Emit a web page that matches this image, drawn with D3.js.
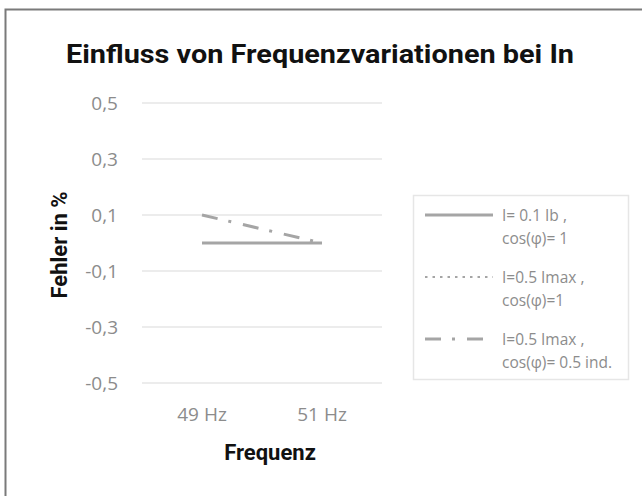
<!DOCTYPE html>
<html>
<head>
<meta charset="utf-8">
<script src="https://cdn.jsdelivr.net/npm/d3@7"></script>
<style>
  body { margin: 0; background: #fff; }
</style>
</head>
<body>
<div id="chart"></div>
<script>
const categories = ['49 Hz', '51 Hz'];
const yTicks = [0.5, 0.3, 0.1, -0.1, -0.3, -0.5];
const seriesNames = [
  ['I= 0.1 Ib ,', 'cos(\u03C6)= 1'],
  ['I=0.5 Imax ,', 'cos(\u03C6)=1'],
  ['I=0.5 Imax ,', 'cos(\u03C6)= 0.5 ind.'],
];
const seriesA = [0, 0];
const seriesB = [0, 0];
const seriesC = [0.1, 0];
const seriesDash = [null, '2.5,5', '16,11,3,12'];

const width = 642;
const height = 496;
const plot = { left: 142, right: 382, top: 103, bottom: 383 };
const lineColor = '#a5a5a5';
const tickColor = '#8c8c8c';

const svg = d3.select('#chart').append('svg')
  .attr('width', width)
  .attr('height', height);

// frame: only top and left edges show in the picture
svg.append('path')
  .attr('d', `M5.5,${height} V9.5 H${width}`)
  .attr('fill', 'none')
  .attr('stroke', '#7a7a7a')
  .attr('stroke-width', 2);

svg.append('text')
  .attr('x', 66).attr('y', 63)
  .attr('font-family', 'Roboto, sans-serif')
  .attr('font-weight', 700)
  .attr('font-size', 26)
  .attr('textLength', 508)
  .attr('lengthAdjust', 'spacingAndGlyphs')
  .attr('fill', '#111')
  .text('Einfluss von Frequenzvariationen bei In');

const x = d3.scaleBand().domain(categories).range([plot.left, plot.right]);
const y = d3.scaleLinear().domain([-0.5, 0.5]).range([plot.bottom, plot.top]);

// gridlines
svg.append('g')
  .selectAll('line')
  .data(yTicks)
  .join('line')
  .attr('x1', plot.left).attr('x2', plot.right)
  .attr('y1', (d) => y(d)).attr('y2', (d) => y(d))
  .attr('stroke', '#e6e6e6')
  .attr('stroke-width', 1.5);

const yAxis = d3.axisLeft(y)
  .tickValues(yTicks)
  .tickSize(0)
  .tickPadding(24)
  .tickFormat((d) => d3.format('.1f')(d).replace('.', ',').replace('\u2212', '-'));

const yg = svg.append('g')
  .attr('transform', `translate(${plot.left},0)`)
  .call(yAxis);
yg.select('.domain').remove();
yg.selectAll('text')
  .attr('font-family', '"Open Sans", sans-serif')
  .attr('font-size', 19)
  .attr('fill', tickColor);

const xAxis = d3.axisBottom(x).tickSize(0).tickPadding(25);
const xg = svg.append('g')
  .attr('transform', `translate(0,${plot.bottom})`)
  .call(xAxis);
xg.select('.domain').remove();
xg.selectAll('text')
  .attr('font-family', '"Open Sans", sans-serif')
  .attr('font-size', 19)
  .attr('fill', tickColor);

// axis titles
svg.append('text')
  .attr('x', 270).attr('y', 460)
  .attr('text-anchor', 'middle')
  .attr('font-family', 'Roboto, sans-serif')
  .attr('font-weight', 700)
  .attr('font-size', 22)
  .attr('fill', '#111')
  .text('Frequenz');

svg.append('text')
  .attr('transform', 'translate(67,245) rotate(-90)')
  .attr('text-anchor', 'middle')
  .attr('font-family', 'Roboto, sans-serif')
  .attr('font-weight', 700)
  .attr('font-size', 22)
  .attr('fill', '#111')
  .text('Fehler in %');

// series lines
const allSeries = [seriesA, seriesB, seriesC];
const lineGen = d3.line()
  .x((d, i) => x(categories[i]) + x.bandwidth() / 2)
  .y((d) => y(d));

svg.append('g')
  .selectAll('path')
  .data(allSeries)
  .join('path')
  .attr('d', (d) => lineGen(d))
  .attr('fill', 'none')
  .attr('stroke', lineColor)
  .attr('stroke-width', (d, i) => (i === 1 ? 2 : 3))
  .attr('stroke-dasharray', (d, i) => seriesDash[i]);

// legend
const legend = svg.append('g');
legend.append('rect')
  .attr('x', 413.5).attr('y', 195.5)
  .attr('width', 215).attr('height', 184)
  .attr('fill', '#fff')
  .attr('stroke', '#e6e6e6')
  .attr('stroke-width', 1.5);

const entryY = [215, 277, 339];
seriesNames.forEach((name, i) => {
  legend.append('line')
    .attr('x1', 425).attr('x2', 493)
    .attr('y1', entryY[i]).attr('y2', entryY[i])
    .attr('stroke', lineColor)
    .attr('stroke-width', i === 1 ? 2 : 3)
    .attr('stroke-dasharray', seriesDash[i]);
  legend.append('text')
    .attr('x', 502).attr('y', entryY[i] + 6)
    .attr('font-family', '"Open Sans", sans-serif')
    .attr('font-size', 15.5)
    .attr('fill', tickColor)
    .selectAll('tspan')
    .data(name)
    .join('tspan')
    .attr('x', 502)
    .attr('dy', (d, j) => (j === 0 ? 0 : 23))
    .text((d) => d);
});
</script>
</body>
</html>
